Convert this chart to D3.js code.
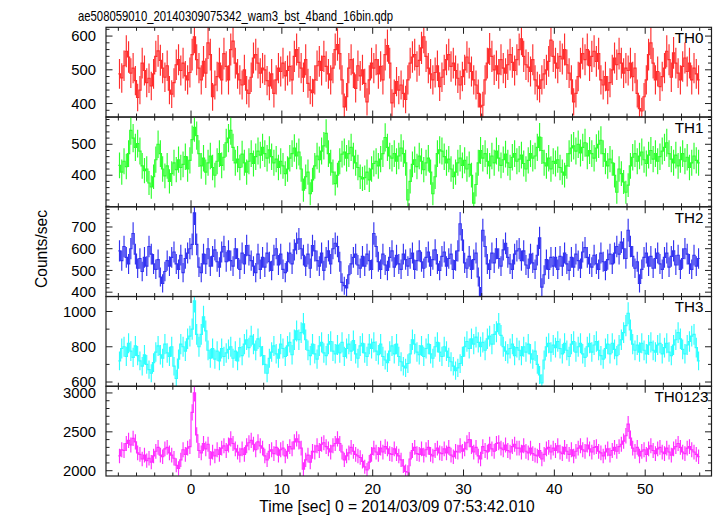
<!DOCTYPE html>
<html><head><meta charset="utf-8">
<script src="https://cdn.jsdelivr.net/npm/d3@7"></script>
<style>
body{margin:0;background:#fff}
svg{display:block}
text{font-family:"Liberation Sans",Arial,Helvetica,sans-serif;fill:#000}
</style>
</head><body>
<svg id="chart" width="717" height="516"></svg>
<script>
// ---------------- data ----------------
const chartTitle = "ae508059010_20140309075342_wam3_bst_4band_16bin.qdp";
const xAxisTitle = "Time [sec] 0 = 2014/03/09 07:53:42.010";
const yAxisTitle = "Counts/sec";
const bandNames = ["TH0", "TH1", "TH2", "TH3", "TH0123"];
const binStart = -8;       // s, left edge of first bin
const binWidth = 0.25;     // s
const xTickValues = [0, 10, 20, 30, 40, 50];
const xDomain = [-9.36, 57.3];

const th0 = [
488,476,512,555,538,490,505,468,418,440,520,498,462,475,452,488,
540,556,528,505,478,512,440,428,462,515,530,498,520,482,470,492,
545,598,530,505,470,525,490,580,545,420,455,480,520,470,548,510,
470,560,585,520,488,470,455,500,440,430,478,535,545,520,490,505,
500,468,452,488,430,470,505,495,520,482,498,510,470,540,560,522,
505,478,530,460,440,432,470,512,525,498,540,510,488,470,505,560,
575,548,470,390,420,505,530,490,445,512,482,500,460,405,470,520,
505,530,488,510,470,545,572,520,402,430,465,440,455,430,412,470,
520,538,545,510,528,565,598,540,505,488,470,492,512,450,478,500,
530,545,510,520,498,475,455,480,500,538,520,495,470,455,430,390,
395,470,520,562,540,500,512,488,530,505,490,515,545,522,498,530,
560,592,540,515,508,495,530,470,452,445,470,488,500,525,588,540,
520,505,540,532,560,515,490,470,405,430,480,520,548,530,560,512,
540,555,525,548,470,455,480,440,462,500,535,515,548,520,490,505,
498,520,480,505,430,385,378,420,470,545,580,520,470,495,450,480,
505,555,530,478,550,520,490,470,510,535,495,520,470,505,488,470
];
const th1 = [
432,410,445,428,470,545,520,490,502,478,430,415,420,375,362,395,
450,500,470,420,398,430,380,405,440,418,450,425,435,460,420,448,
515,555,528,470,430,455,410,440,462,425,400,445,470,432,458,505,
520,545,490,440,452,425,468,440,410,445,470,438,460,478,465,490,
470,455,482,460,440,452,425,445,430,405,420,455,470,488,462,475,
420,352,395,410,340,385,430,462,450,478,495,535,470,440,410,373,
400,445,468,475,455,470,490,462,440,425,395,388,392,410,385,420,
438,445,430,452,470,522,490,462,455,470,445,462,488,470,440,320,
380,435,450,428,462,445,418,440,455,410,340,395,470,482,478,460,
440,452,420,395,410,440,455,432,448,420,435,400,310,370,440,480,
455,470,445,430,462,440,478,455,432,450,468,440,425,458,470,445,
452,465,438,420,448,470,455,462,490,523,480,440,430,455,420,445,
438,450,425,410,400,430,470,488,495,478,500,472,490,505,462,480,
470,455,488,500,513,470,445,430,452,440,400,345,420,405,378,345,
368,430,458,470,445,462,475,450,438,465,480,452,470,445,460,478,
490,505,470,452,440,465,430,450,470,445,458,425,440,462,448,440
];
const th2 = [
590,545,610,560,530,600,670,575,510,555,495,560,520,610,575,530,
505,550,470,440,495,545,520,560,585,530,505,570,490,555,580,600,
620,765,620,515,490,575,530,600,520,565,595,540,515,585,610,540,
590,545,520,600,555,505,580,530,615,570,545,520,490,575,505,560,
515,580,540,500,570,600,525,575,505,490,540,580,530,595,625,645,
600,570,520,575,510,615,590,545,520,580,500,560,590,530,600,625,
610,540,445,430,420,480,530,560,575,525,510,565,520,575,545,505,
670,610,540,505,575,525,500,560,590,515,570,530,505,575,550,520,
555,580,505,545,590,540,510,560,585,520,550,595,530,500,565,585,
520,555,575,505,545,590,715,640,535,510,565,505,550,580,470,385,
685,610,530,505,580,535,600,555,520,595,625,560,530,505,575,590,
600,545,590,525,510,575,535,505,570,650,423,480,550,505,560,520,
560,505,565,520,580,530,500,560,515,575,545,510,585,605,560,530,
515,570,530,505,580,540,500,550,575,530,580,610,575,630,600,555,
685,610,565,510,540,440,505,560,580,520,565,510,555,580,530,505,
560,580,515,565,590,525,570,505,555,600,575,530,505,570,520,555
];
const th3 = [
720,790,800,745,820,775,740,805,750,720,690,755,700,670,650,710,
770,805,755,735,815,765,745,800,690,620,730,815,800,775,845,860,
900,1060,870,800,870,970,890,780,735,790,730,775,720,790,745,765,
785,800,735,775,720,795,750,815,840,795,860,815,780,845,800,750,
700,650,735,770,805,760,735,815,790,745,805,825,755,840,890,840,
880,930,840,780,750,815,760,730,805,825,765,750,815,830,775,760,
810,765,825,745,790,815,775,835,760,735,805,820,765,745,815,790,
825,775,755,815,745,725,710,775,805,760,815,745,715,690,680,705,
760,840,815,770,755,805,745,790,815,760,735,800,825,770,745,800,
775,740,715,690,665,680,705,745,800,830,790,845,815,855,825,800,
825,780,845,860,815,870,885,930,865,800,775,760,790,815,750,795,
780,750,800,770,815,760,730,775,700,640,595,725,800,820,770,810,
795,830,790,760,820,780,745,815,830,770,800,820,760,740,800,820,
770,810,830,780,750,730,790,815,760,820,785,750,810,840,880,920,
990,895,815,780,810,770,820,780,760,810,825,780,770,810,820,760,
795,820,770,750,810,840,880,845,785,760,810,830,860,870,795,720
];
const th0123 = [
2190,2270,2260,2350,2390,2330,2415,2370,2230,2210,2150,2200,2130,2160,2110,2190,
2250,2300,2200,2180,2280,2300,2230,2200,2160,2070,2030,2140,2270,2210,2290,2310,
2750,3000,2460,2260,2230,2350,2280,2340,2160,2240,2190,2270,2210,2290,2320,2260,
2330,2410,2350,2280,2240,2200,2280,2210,2320,2360,2390,2340,2270,2370,2320,2290,
2190,2140,2250,2270,2220,2300,2200,2270,2290,2190,2250,2310,2280,2370,2410,2370,
2290,2020,2140,2200,2110,2250,2240,2320,2260,2340,2360,2310,2280,2240,2320,2350,
2410,2350,2240,2140,2190,2230,2300,2250,2210,2190,2170,2120,2050,2010,2110,2210,
2290,2240,2210,2290,2240,2310,2280,2220,2210,2280,2220,2190,2140,2060,1990,1980,
2150,2260,2300,2220,2210,2280,2200,2270,2300,2210,2190,2260,2290,2230,2220,2280,
2230,2300,2200,2180,2250,2240,2320,2250,2280,2360,2400,2310,2240,2300,2190,2150,
2310,2260,2240,2340,2280,2250,2350,2360,2290,2270,2330,2260,2240,2310,2340,2290,
2290,2240,2320,2250,2230,2290,2220,2200,2190,2260,2150,2210,2280,2300,2240,2290,
2260,2320,2240,2220,2300,2250,2210,2270,2190,2250,2290,2320,2270,2250,2330,2280,
2240,2300,2310,2250,2230,2190,2240,2280,2200,2260,2300,2250,2310,2340,2380,2450,
2600,2420,2290,2250,2300,2190,2250,2270,2210,2280,2320,2260,2220,2280,2300,2240,
2220,2290,2240,2200,2280,2310,2350,2300,2240,2220,2290,2310,2270,2240,2210,2180
];
const bandValues = [th0, th1, th2, th3, th0123];
const yDomains = [[360, 626], [298, 588], [380, 793], [576, 1085], [1932, 3086]];
const yTickLabels = [[400, 500, 600], [400, 500], [400, 500, 600, 700], [600, 800, 1000], [2000, 2500, 3000]];
const yMinorStep = [20, 20, 20, 100, 100];
const bandColors = ["#ff2d2d", "#2dff2d", "#3232f0", "#2dffff", "#ff2dff"];

// ---------------- layout ----------------
const plotL = 106, plotR = 711.5, plotT = 27.3, plotB = 476;
const nP = bandNames.length;
const pH = (plotB - plotT) / nP;
const frameColor = "#1e1e1e";

const svg = d3.select("#chart");
const x = d3.scaleLinear().domain(xDomain).range([plotL, plotR]);

svg.append("text").text(chartTitle)
  .attr("x", 78).attr("y", 20.7)
  .attr("font-size", 14.2)
  .attr("textLength", 315).attr("lengthAdjust", "spacingAndGlyphs");

const defs = svg.append("defs");

bandNames.forEach((name, p) => {
  const y0 = plotT + p * pH, y1 = y0 + pH;
  const y = d3.scaleLinear().domain(yDomains[p]).range([y1, y0]);
  const vals = bandValues[p];

  defs.append("clipPath").attr("id", "clip" + p)
    .append("rect").attr("x", plotL).attr("y", y0).attr("width", plotR - plotL).attr("height", pH);

  const g = svg.append("g").attr("clip-path", "url(#clip" + p + ")");
  const errPath = d3.path();
  const stepPath = d3.path();
  vals.forEach((v, i) => {
    const t = binStart + binWidth * (i + 0.5);
    const err = Math.sqrt(v * binWidth) / binWidth;
    const xc = x(t);
    errPath.moveTo(xc, y(v - err)); errPath.lineTo(xc, y(v + err));
    if (i === 0) stepPath.moveTo(x(t - binWidth / 2), y(v));
    else stepPath.lineTo(x(t - binWidth / 2), y(v));
    stepPath.lineTo(x(t + binWidth / 2), y(v));
  });
  g.append("path").attr("d", errPath.toString())
    .attr("fill", "none").attr("stroke", bandColors[p]).attr("stroke-width", 1.15);
  g.append("path").attr("d", stepPath.toString())
    .attr("fill", "none").attr("stroke", bandColors[p]).attr("stroke-width", 1.15);

  svg.append("rect").attr("x", plotL).attr("y", y0).attr("width", plotR - plotL).attr("height", pH)
    .attr("fill", "none").attr("stroke", frameColor).attr("stroke-width", 1.2);

  const [d0, d1] = yDomains[p];
  const minorTicks = d3.range(Math.ceil(d0 / yMinorStep[p]) * yMinorStep[p], d1, yMinorStep[p]);
  const tk = svg.append("g").attr("stroke", frameColor).attr("stroke-width", 1);
  minorTicks.forEach(v => {
    const major = yTickLabels[p].includes(v);
    const len = major ? 6.5 : 3.5;
    const yy = y(v);
    tk.append("line").attr("x1", plotL).attr("x2", plotL + len).attr("y1", yy).attr("y2", yy);
    tk.append("line").attr("x1", plotR).attr("x2", plotR - len).attr("y1", yy).attr("y2", yy);
  });
  yTickLabels[p].forEach(v => {
    svg.append("text").text(v).attr("x", 96).attr("y", y(v)).attr("dy", "0.35em")
      .attr("text-anchor", "end").attr("font-size", 14.8);
  });

  const xt = d3.range(Math.ceil(xDomain[0] / 2) * 2, xDomain[1], 2);
  xt.forEach(t => {
    const major = t % 10 === 0;
    const len = major ? 6.5 : 3.5;
    const xx = x(t);
    tk.append("line").attr("x1", xx).attr("x2", xx).attr("y1", y0).attr("y2", y0 + len);
    tk.append("line").attr("x1", xx).attr("x2", xx).attr("y1", y1).attr("y2", y1 - len);
  });

  svg.append("text").text(name)
    .attr("x", name.length > 3 ? 708.5 : 703.5).attr("y", y0 + 15.8)
    .attr("text-anchor", "end").attr("font-size", 15.2);
});

xTickValues.forEach(t => {
  svg.append("text").text(t).attr("x", x(t)).attr("y", 493.6)
    .attr("text-anchor", "middle").attr("font-size", 14.8);
});

svg.append("text").text(xAxisTitle)
  .attr("x", 397).attr("y", 511.5).attr("text-anchor", "middle").attr("font-size", 15.6);

svg.append("text").text(yAxisTitle)
  .attr("transform", "translate(46.5,249) rotate(-90)")
  .attr("text-anchor", "middle").attr("font-size", 15.6);
</script>
</body></html>
